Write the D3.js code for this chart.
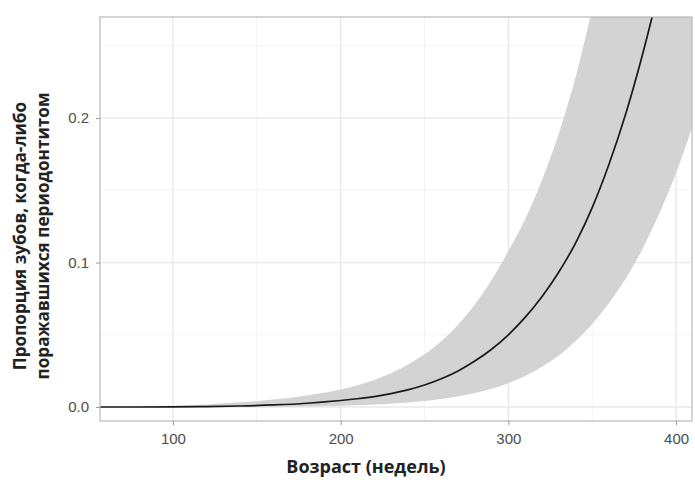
<!DOCTYPE html>
<html>
<head>
<meta charset="utf-8">
<script src="https://cdn.jsdelivr.net/npm/d3@7"></script>
<style>
  body { margin: 0; background: #fff; }
</style>
</head>
<body>
<script>
// age in weeks
var weeks = [50, 80, 100, 120, 140, 160, 180, 190, 200, 210, 220, 230, 240, 250, 260, 270, 280, 290, 300, 310, 320, 330, 340, 350, 360, 370, 380, 390, 400, 410];
// fitted proportion
var fit = [0.0000, 0.0000, 0.0001, 0.0003, 0.0007, 0.0014, 0.0026, 0.0035, 0.0045, 0.0057, 0.0072, 0.0092, 0.0118, 0.0152, 0.0195, 0.0250, 0.0318, 0.0400, 0.0500, 0.0620, 0.0763, 0.0933, 0.1133, 0.1380, 0.1680, 0.2030, 0.2440, 0.2910, 0.3440, 0.4030];
// confidence band
var lower = [0.0000, 0.0000, 0.0000, 0.0000, 0.0001, 0.0002, 0.0004, 0.0006, 0.0009, 0.0012, 0.0017, 0.0023, 0.0031, 0.0042, 0.0056, 0.0074, 0.0097, 0.0127, 0.0165, 0.0215, 0.0278, 0.0357, 0.0455, 0.0575, 0.0720, 0.0890, 0.1095, 0.1340, 0.1620, 0.1950];
var upper = [0.0000, 0.0003, 0.0009, 0.0018, 0.0032, 0.0052, 0.0080, 0.0098, 0.0121, 0.0150, 0.0186, 0.0233, 0.0292, 0.0365, 0.0455, 0.0570, 0.0710, 0.0880, 0.1080, 0.1300, 0.1570, 0.1890, 0.2280, 0.2760, 0.3300, 0.3900, 0.4500, 0.5100, 0.5700, 0.6300];

// ticks
var xTicks = [100, 200, 300, 400];
var xMinor = [150, 250, 350];
var yTicks = [0, 0.1, 0.2];
var yTickLabels = ["0.0", "0.1", "0.2"];
var yMinor = [0.05, 0.15, 0.25];

var xTitle = "Возраст (недель)";
var yTitle = ["Пропорция зубов, когда-либо", "поражавшихся периодонтитом"];

var w = 695;
var h = 480;

// panel edges
const panel = {left: 100, right: 692, top: 17, bottom: 421};

var data = weeks.map(function(d, i) {
  return {week: d, fit: fit[i], lower: lower[i], upper: upper[i]};
});

var xScale = d3.scaleLinear()
               .domain([56.5, 409.5])
               .range([panel.left, panel.right]);

var yScale = d3.scaleLinear()
               .domain([-0.0097, 0.27])
               .range([panel.bottom, panel.top]);

var svg = d3.select("body")
            .append("svg")
            .attr("width", w)
            .attr("height", h);

svg.append("clipPath")
   .attr("id", "clip")
   .append("rect")
   .attr("x", panel.left)
   .attr("y", panel.top)
   .attr("width", panel.right - panel.left)
   .attr("height", panel.bottom - panel.top);

// minor grid
svg.append("g")
   .selectAll("line")
   .data(xMinor)
   .enter()
   .append("line")
   .attr("x1", function(d) { return xScale(d); })
   .attr("x2", function(d) { return xScale(d); })
   .attr("y1", panel.top)
   .attr("y2", panel.bottom)
   .attr("stroke", "#f3f3f3")
   .attr("stroke-width", 1);

svg.append("g")
   .selectAll("line")
   .data(yMinor)
   .enter()
   .append("line")
   .attr("x1", panel.left)
   .attr("x2", panel.right)
   .attr("y1", function(d) { return yScale(d); })
   .attr("y2", function(d) { return yScale(d); })
   .attr("stroke", "#f3f3f3")
   .attr("stroke-width", 1);

// major grid
svg.append("g")
   .selectAll("line")
   .data(xTicks)
   .enter()
   .append("line")
   .attr("x1", function(d) { return xScale(d); })
   .attr("x2", function(d) { return xScale(d); })
   .attr("y1", panel.top)
   .attr("y2", panel.bottom)
   .attr("stroke", "#e8e8e8")
   .attr("stroke-width", 1.3);

svg.append("g")
   .selectAll("line")
   .data(yTicks)
   .enter()
   .append("line")
   .attr("x1", panel.left)
   .attr("x2", panel.right)
   .attr("y1", function(d) { return yScale(d); })
   .attr("y2", function(d) { return yScale(d); })
   .attr("stroke", "#e8e8e8")
   .attr("stroke-width", 1.3);

// ribbon
var area = d3.area()
             .x(function(d) { return xScale(d.week); })
             .y0(function(d) { return yScale(d.lower); })
             .y1(function(d) { return yScale(d.upper); })
             .curve(d3.curveMonotoneX);

svg.append("path")
   .datum(data)
   .attr("clip-path", "url(#clip)")
   .attr("d", area)
   .attr("fill", "#d3d3d3");

// fitted line
var line = d3.line()
             .x(function(d) { return xScale(d.week); })
             .y(function(d) { return yScale(d.fit); })
             .curve(d3.curveMonotoneX);

svg.append("path")
   .datum(data)
   .attr("clip-path", "url(#clip)")
   .attr("d", line)
   .attr("fill", "none")
   .attr("stroke", "#1a1a1a")
   .attr("stroke-width", 1.7);

// panel border
svg.append("rect")
   .attr("x", panel.left)
   .attr("y", panel.top)
   .attr("width", panel.right - panel.left)
   .attr("height", panel.bottom - panel.top)
   .attr("fill", "none")
   .attr("stroke", "#b8b8b8")
   .attr("stroke-width", 1.2);

// axes
const xAxis = d3.axisBottom(xScale)
                .tickValues(xTicks)
                .tickSize(4)
                .tickPadding(8);

const yAxis = d3.axisLeft(yScale)
                .tickValues(yTicks)
                .tickFormat(function(d, i) { return yTickLabels[i]; })
                .tickSize(4)
                .tickPadding(7);

var gx = svg.append("g")
            .attr("transform", "translate(0," + panel.bottom + ")")
            .call(xAxis);

var gy = svg.append("g")
            .attr("transform", "translate(" + panel.left + ",0)")
            .call(yAxis);

[gx, gy].forEach(function(g) {
  g.select(".domain").remove();
  g.selectAll(".tick line").attr("stroke", "#999");
  g.selectAll(".tick text")
   .attr("fill", "#4d4d4d")
   .attr("font-family", "Liberation Sans, Arial, sans-serif")
   .attr("font-size", "15px");
});

// x title
svg.append("text")
   .attr("x", 366)
   .attr("y", 473)
   .attr("text-anchor", "middle")
   .attr("font-family", "Open Sans, sans-serif")
   .attr("font-weight", "bold")
   .attr("font-size", "18px")
   .attr("fill", "#222")
   .text(xTitle);

// y title, two lines
svg.append("g")
   .attr("transform", "translate(0,236) rotate(-90)")
   .selectAll("text")
   .data(yTitle)
   .enter()
   .append("text")
   .attr("x", 0)
   .attr("y", function(d, i) { return 26 + i * 23; })
   .attr("text-anchor", "middle")
   .attr("font-family", "Open Sans, sans-serif")
   .attr("font-weight", "bold")
   .attr("font-size", "17.2px")
   .attr("fill", "#222")
   .text(function(d) { return d; });
</script>
</body>
</html>
